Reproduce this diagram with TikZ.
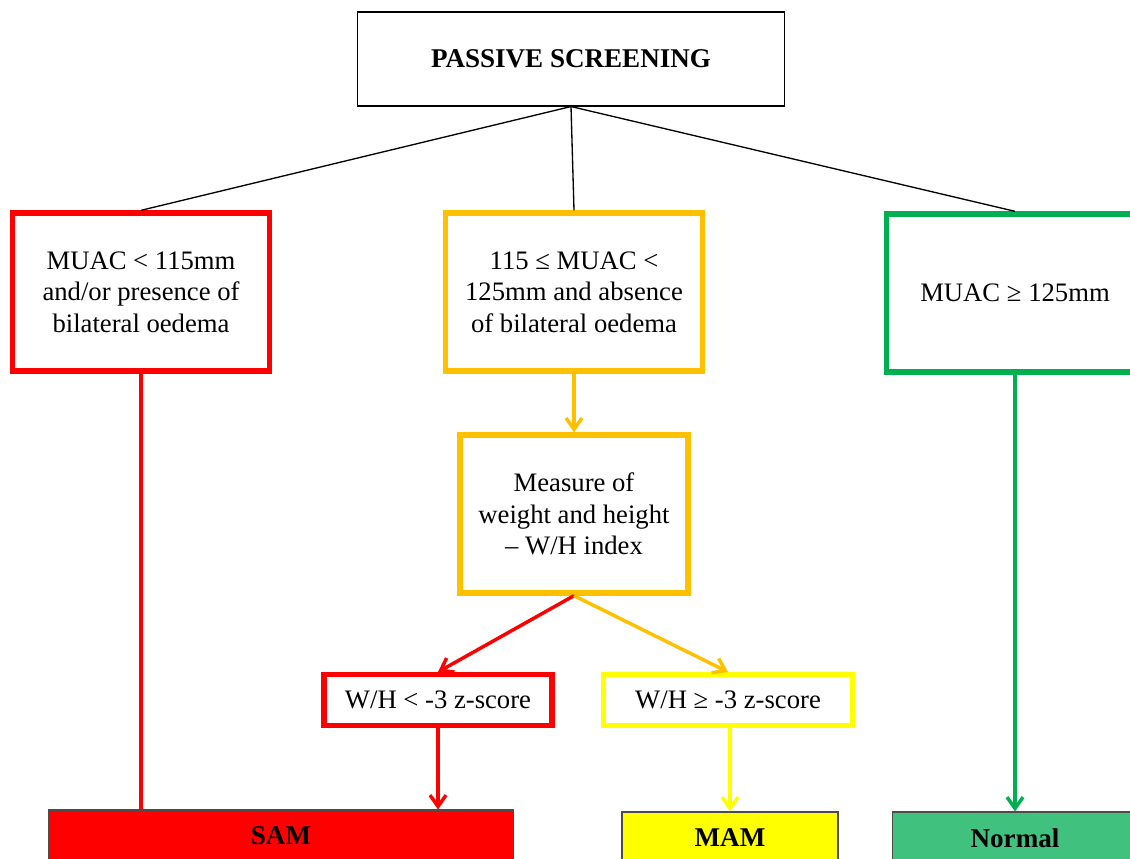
\documentclass[tikz,border=0pt]{standalone}
\usepackage{fontspec}
\setmainfont{Liberation Serif}
\usetikzlibrary{arrows.meta}
\definecolor{cred}{RGB}{255,0,0}
\definecolor{corange}{RGB}{255,192,0}
\definecolor{cgreen}{RGB}{0,176,80}
\definecolor{cyellow}{RGB}{255,255,0}
\definecolor{cnormal}{RGB}{64,194,126}
\begin{document}
\begin{tikzpicture}[x=0.75pt,y=-0.75pt,
    every node/.style={font=\fontsize{20pt}{23.6pt}\selectfont, align=center, inner sep=0pt},
    crit/.style={draw, line width=4pt, minimum width=192.75pt, minimum height=118.5pt},
    result/.style={draw=black!70, line width=0.8pt, minimum height=39pt, font=\fontsize{20.3pt}{23.6pt}\selectfont\bfseries},
    link/.style={line width=2.6pt, -{Straight Barb[length=8.5pt,width=12pt]}}]
\useasboundingbox (0,0) rectangle (1130,859);

\node[draw, line width=0.8pt, minimum width=320pt, minimum height=70.5pt, font=\fontsize{20.3pt}{23.6pt}\selectfont\bfseries] (screen) at (571,59) {PASSIVE SCREENING};

\node[crit, draw=cred] (muac1) at (141,292) {MUAC < 115mm\\and/or presence of\\bilateral oedema};
\node[crit, draw=corange] (muac2) at (574,292) {115 ≤ MUAC <\\125mm and absence\\of bilateral oedema};
\node[crit, draw=cgreen] (muac3) at (1015,293) {MUAC ≥ 125mm};

\node[crit, draw=corange, minimum width=171pt] (measure) at (574,514) {Measure of\\weight and height\\– W/H index};

\node[draw=cred, line width=4pt, minimum width=171pt, minimum height=38pt] (wh1) at (438,700) {W/H < -3 z-score};
\node[draw=cyellow, line width=4pt, minimum width=187pt, minimum height=38pt] (wh2) at (728,700) {W/H ≥ -3 z-score};

\node[result, fill=cred, minimum width=349pt] (sam) at (281,836) {SAM};
\node[result, fill=cyellow, minimum width=162pt] (mam) at (730,838) {MAM};
\node[result, fill=cnormal, minimum width=184pt] (normal) at (1015,838) {Normal};

\path[line width=1pt]
    (screen.south) edge (muac1.north)
    (screen.south) edge (muac2.north)
    (screen.south) edge (muac3.north);

\draw[line width=2.6pt, cred] (muac1.south) -- (muac1.south |- sam.north);
\draw[link, corange] (muac2.south) -- (measure.north);
\draw[link, cred] (measure.south) -- (wh1.north);
\draw[link, corange] (measure.south) -- (wh2.north);
\draw[link, cred] (wh1.south) -- (wh1.south |- sam.north);
\draw[link, cyellow] (mam.north |- wh2.south) -- (mam.north);
\draw[link, cgreen] (muac3.south) -- (normal.north);
\end{tikzpicture}
\end{document}
